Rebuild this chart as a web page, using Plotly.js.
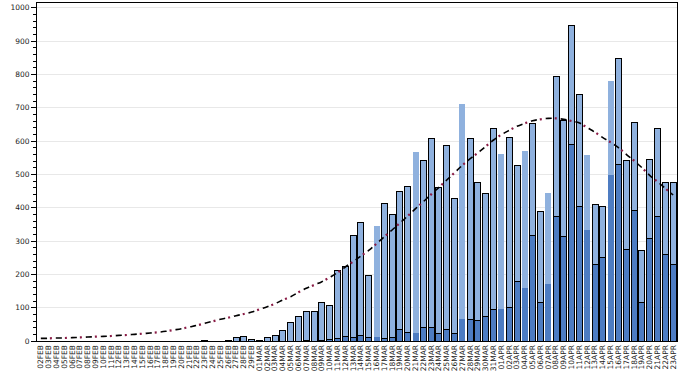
<!DOCTYPE html>
<html>
<head>
<meta charset="utf-8">
<script src="https://cdn.plot.ly/plotly-3.0.1.min.js"></script>
<style>html,body{margin:0;padding:0;background:#fff;}#chart{width:678px;height:380px;}</style>
</head>
<body>
<div id="chart"></div>
<script>
var dates = ["02FEB","03FEB","04FEB","05FEB","06FEB","07FEB","08FEB","09FEB","10FEB","11FEB","12FEB","13FEB","14FEB","15FEB","16FEB","17FEB","18FEB","19FEB","20FEB","21FEB","22FEB","23FEB","24FEB","25FEB","26FEB","27FEB","28FEB","29FEB",
"01MAR","02MAR","03MAR","04MAR","05MAR","06MAR","07MAR","08MAR","09MAR","10MAR","11MAR","12MAR","13MAR","14MAR","15MAR","16MAR","17MAR","18MAR","19MAR","20MAR","21MAR","22MAR","23MAR","24MAR","25MAR","26MAR","27MAR","28MAR","29MAR","30MAR","31MAR",
"01APR","02APR","03APR","04APR","05APR","06APR","07APR","08APR","09APR","10APR","11APR","12APR","13APR","14APR","15APR","16APR","17APR","18APR","19APR","20APR","21APR","22APR","23APR"];

// total bar height per day
var totalVals = [0,0,0,0,0,0,0,0,0,0,0,0,0,0,0,0,0,0,0,0,0,3,0,0,2,12,14,5,
2,11,16,31,56,74,89,89,116,107,212,224,317,356,197,344,412,379,448,464,566,542,608,462,587,427,710,608,475,444,639,
560,612,527,571,653,389,443,793,661,947,739,559,409,403,779,847,541,655,271,544,638,475,475];

// darker (bottom) part of each bar
var darkVals = [0,0,0,0,0,0,0,0,0,0,0,0,0,0,0,0,0,0,0,0,0,0,0,0,0,0,0,0,
0,0,0,0,0,0,3,0,3,6,7,14,12,17,11,11,9,11,34,25,23,40,40,22,34,22,65,64,62,74,94,
97,102,180,160,316,117,170,374,314,590,404,334,230,250,497,530,276,391,115,307,373,259,230];

// fitted curve
var curveVals = [8,8,9,9,10,11,12,13,14,15,17,18,20,22,24,26,29,33,37,42,47,53,59,65,70,76,81,87,
95,103,112,123,133,146,158,168,178,191,205,222,238,255,272,292,313,333,354,375,397,418,440,461,483,505,527,547,565,584,603,
619,632,644,653,661,665,668,668,665,660,654,640,626,610,596,580,560,541,520,497,478,458,438];

// days drawn without a black outline
var noOutline = ["16MAR","21MAR","27MAR","01APR","04APR","07APR","12APR","15APR"];

var lightVals = totalVals.map(function(t, i){ return t - darkVals[i]; });
var lineW = dates.map(function(d){ return noOutline.indexOf(d) >= 0 ? 0 : 1; });

var traces = [
  {type:'bar', x:dates, y:darkVals, name:'dark',
   marker:{color:'#4d7cc2', line:{color:'#000', width:lineW}}},
  {type:'bar', x:dates, y:lightVals, name:'light',
   marker:{color:'#8fb1de', line:{color:'#000', width:lineW}}},
  {type:'scatter', mode:'lines', x:dates, y:curveVals, name:'fit',
   line:{color:'#000', width:1.6, dash:'6px,9px', shape:'spline'}},
  {type:'scatter', mode:'lines', x:dates, y:curveVals, name:'fit2',
   line:{color:'#8b1c46', width:2.2, dash:'0.1px,8.9px,2px,4px', shape:'spline'}}
];

var layout = {
  width:678, height:380,
  margin:{l:37, r:1, t:3, b:39, pad:0},
  paper_bgcolor:'#fff', plot_bgcolor:'#fff',
  showlegend:false,
  barmode:'stack', bargap:0.23,
  font:{family:'DejaVu Sans', size:8, color:'#222'},
  xaxis:{type:'category', tickmode:'linear', tick0:0, dtick:1, tickangle:-90,
         tickfont:{family:'DejaVu Sans', size:7.5, color:'#222'},
         showline:true, linecolor:'#000', linewidth:1, mirror:true, ticks:'', showgrid:false,
         range:[-0.5, 81.5]},
  yaxis:{range:[0,1014], dtick:100, tick0:0, showgrid:true, gridcolor:'#e8e8e8', gridwidth:1,
         layer:'above traces', zeroline:false, showline:true, linecolor:'#000', linewidth:1, mirror:true,
         ticks:'outside', ticklen:5, tickcolor:'#000', tickfont:{family:'DejaVu Sans', size:7.5, color:'#222'},
         minor:{dtick:20, ticks:'outside', ticklen:3, tickcolor:'#000', showgrid:false}}
};

Plotly.newPlot('chart', traces, layout, {displayModeBar:false, staticPlot:true});
</script>
</body>
</html>
